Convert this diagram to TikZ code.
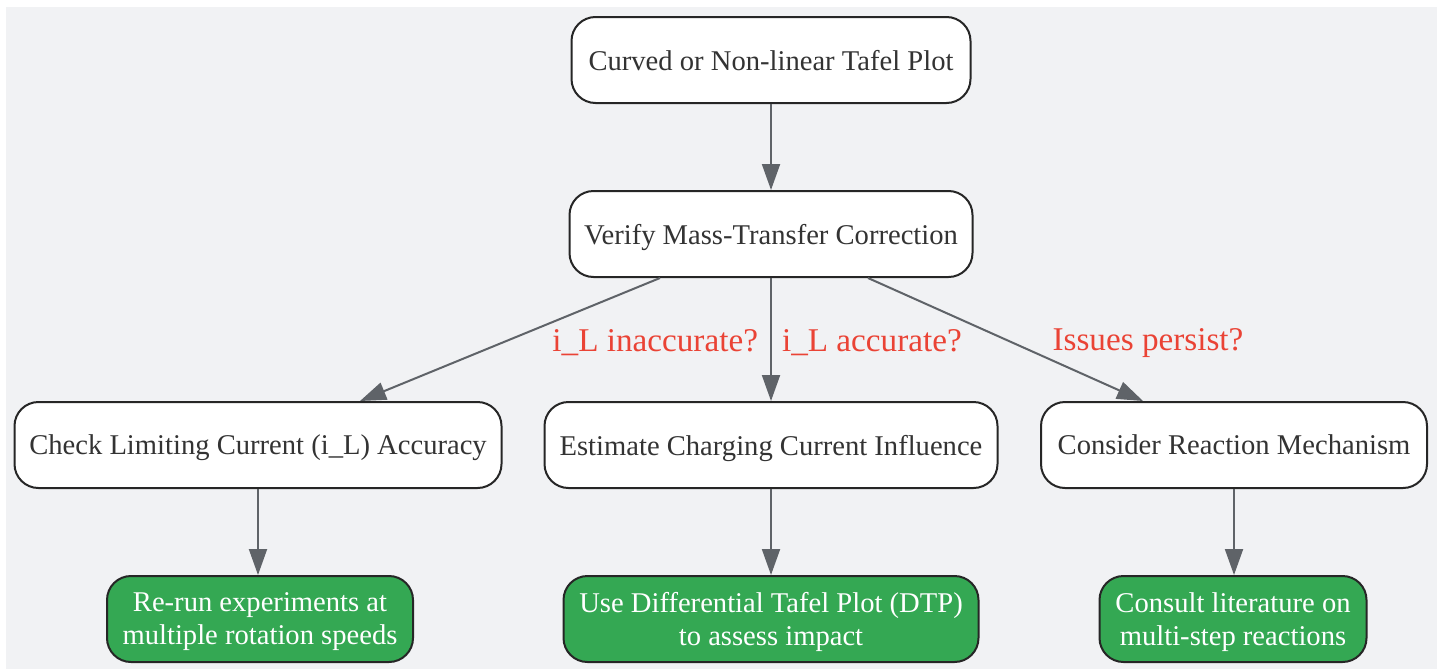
\documentclass[tikz,border=0pt]{standalone}
\usepackage{fontspec}
\setmainfont{Liberation Serif}
\usetikzlibrary{arrows.meta}
\tikzset{>={Triangle[length=13pt,width=9pt]}}
\definecolor{bggray}{HTML}{F1F2F4}
\definecolor{edgegray}{HTML}{5F6368}
\definecolor{labelred}{HTML}{EA4335}
\definecolor{stepgreen}{HTML}{34A853}
\tikzset{
  box/.style={draw=black!85, line width=1pt, rounded corners=12pt, fill=white,
    text=black!80, minimum height=43pt, text depth=0pt, align=center,
    font=\fontsize{14.3}{16.5}\selectfont},
  endbox/.style={box, fill=stepgreen, text=white},
  link/.style={->, edgegray, line width=1pt},
  cond/.style={labelred, font=\fontsize{16.6}{19}\selectfont}
}

\begin{document}
\begin{tikzpicture}[x=0.5pt, y=-0.5pt]
    \useasboundingbox (0,0) rectangle (1443,669);
    \fill[bggray] (6,7) rectangle (1437,669);
    % top rows
    \node[box, minimum width=199.5pt] (curved) at (771,60) {Curved or Non-linear Tafel Plot};
    \node[box, minimum width=201.5pt] (verify) at (771,234) {Verify Mass-Transfer Correction};
    % checks
    \node[box, minimum width=243.5pt] (check) at (258,445) {Check Limiting Current (i\_L) Accuracy};
    \node[box, minimum width=226.5pt] (charge) at (771,445) {Estimate Charging Current Influence};
    \node[box, minimum width=193pt] (mech) at (1234,445) {Consider Reaction Mechanism};
    % actions
    \node[endbox, minimum width=153pt] (rerun) at (260,619) {Re-run experiments at\\multiple rotation speeds};
    \node[endbox, minimum width=207.5pt] (dtp) at (771,619) {Use Differential Tafel Plot (DTP)\\to assess impact};
    \node[endbox, minimum width=133.5pt] (lit) at (1233,619) {Consult literature on\\multi-step reactions};
    \draw[link] (curved) -- (verify);
    \draw[link] ([xshift=-55.5pt]verify.south) -- ([xshift=51pt]check.north);
    \draw[link] (verify) -- (charge);
    \draw[link] ([xshift=48.5pt]verify.south) -- ([xshift=-45.5pt]mech.north);
    \draw[link] (check) -- (rerun.north -| check.south);
    \draw[link] (charge) -- (dtp);
    \draw[link] (mech) -- (lit.north -| mech.south);
    \node[cond, anchor=east] (inacc) at (765,343) {i\_L inaccurate?};
    \node[cond, anchor=west] (acc) at (775,343) {i\_L accurate?};
    \node[cond] (persist) at (1148,343) {Issues persist?};
\end{tikzpicture}
\end{document}
